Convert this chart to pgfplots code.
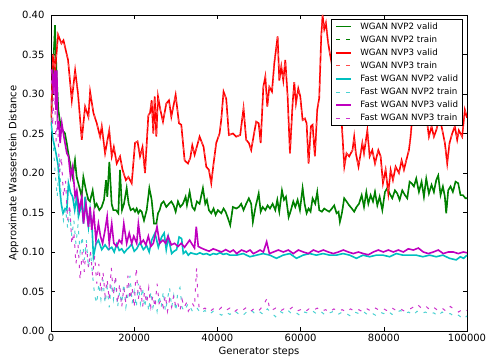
\documentclass[border=0pt]{standalone}
\usepackage{fontspec}
\setmainfont{DejaVu Sans}
\usepackage{pgfplots}
\usepackage{pgfplotstable}
\pgfplotsset{compat=1.18}
\definecolor{mgreen}{RGB}{0,128,0}
\definecolor{mred}{RGB}{255,0,0}
\definecolor{mcyan}{RGB}{0,191,191}
\definecolor{mmag}{RGB}{191,0,191}

\pgfplotstableread{
x y
0 0.27
500 0.33
961 0.387
1362 0.322
1763 0.280
2324 0.259
2805 0.254
3366 0.250
3766 0.238
4167 0.225
4728 0.208
5209 0.195
5770 0.216
6170 0.195
6812 0.182
7372 0.170
7773 0.195
8414 0.178
8975 0.166
9375 0.164
10017 0.178
10578 0.157
10978 0.161
11619 0.153
12180 0.157
12741 0.166
13222 0.191
13542 0.170
14023 0.214
14584 0.161
14985 0.153
15626 0.153
16187 0.149
16587 0.204
17068 0.153
17549 0.161
18190 0.181
18671 0.161
19152 0.153
19793 0.155
20193 0.151
20594 0.155
20995 0.149
21395 0.153
21796 0.151
22357 0.140
22998 0.153
23639 0.181
24200 0.166
24761 0.136
25320 0.136
25720 0.149
26120 0.153
26520 0.161
27080 0.164
27720 0.157
28360 0.161
28920 0.164
29480 0.159
29960 0.151
30520 0.164
31080 0.157
31720 0.161
32360 0.170
32680 0.159
33320 0.176
33960 0.157
34520 0.153
35080 0.164
35720 0.161
36520 0.181
37080 0.161
37480 0.166
37960 0.153
38520 0.149
39080 0.155
39560 0.147
40120 0.153
40920 0.149
41480 0.155
41960 0.151
42520 0.143
43080 0.134
43720 0.157
44520 0.155
45160 0.157
45720 0.161
46280 0.153
46920 0.161
47560 0.168
48120 0.161
48520 0.138
49160 0.157
49920 0.174
50400 0.151
50880 0.157
51520 0.153
52080 0.159
52640 0.155
53280 0.161
53920 0.153
54400 0.166
54880 0.151
55520 0.178
56000 0.166
56480 0.170
57120 0.144
57680 0.153
58240 0.164
58720 0.157
59280 0.166
59840 0.153
60480 0.181
60960 0.161
61440 0.149
61920 0.155
62400 0.151
62880 0.168
63520 0.161
64000 0.176
64480 0.153
65120 0.151
65680 0.155
66240 0.153
66880 0.151
67520 0.155
68080 0.159
68640 0.149
69120 0.151
69440 0.138
69920 0.149
70480 0.168
71040 0.164
71680 0.159
72320 0.155
72880 0.151
73440 0.157
74040 0.161
74680 0.172
75240 0.157
75800 0.176
76280 0.161
76840 0.172
77400 0.164
77880 0.176
78440 0.159
79000 0.170
79640 0.153
80280 0.176
80840 0.181
81400 0.174
82040 0.168
82680 0.178
83240 0.174
83800 0.166
84440 0.178
85080 0.172
85640 0.168
86200 0.189
86680 0.187
87240 0.183
87800 0.193
88440 0.176
89080 0.189
89640 0.170
90200 0.193
90840 0.174
91480 0.185
92040 0.176
92600 0.191
93080 0.197
93640 0.172
94200 0.183
94680 0.170
95000 0.149
95480 0.178
96040 0.183
96600 0.176
97240 0.189
97880 0.187
98440 0.172
99000 0.172
99640 0.168
100000 0.168
}\greenvalid

\pgfplotstableread{
x y
0 0.26
500 0.35
1000 0.33
1700 0.375
2500 0.364
3000 0.368
4100 0.343
5000 0.292
5800 0.330
6500 0.300
7400 0.242
8200 0.284
9000 0.271
9400 0.303
10200 0.276
11000 0.263
11800 0.246
12200 0.259
13000 0.225
14000 0.254
14600 0.221
15100 0.233
15800 0.212
16600 0.221
17200 0.204
18000 0.191
18600 0.195
19400 0.187
20200 0.238
20800 0.240
21400 0.221
22000 0.233
22600 0.200
23400 0.273
23800 0.276
24200 0.292
24600 0.250
24920 0.297
25320 0.246
25720 0.297
26280 0.280
26920 0.265
27720 0.288
28360 0.292
28920 0.271
29960 0.299
30760 0.263
31320 0.261
32120 0.216
32920 0.212
33480 0.219
33960 0.235
34520 0.223
35720 0.246
36680 0.233
37320 0.208
37960 0.204
38520 0.187
39080 0.212
39720 0.238
40520 0.250
40920 0.267
41480 0.303
42120 0.294
42760 0.248
43720 0.250
44520 0.246
45480 0.248
46280 0.282
46920 0.242
47560 0.238
48120 0.229
48680 0.246
49320 0.265
49920 0.263
50400 0.238
51040 0.309
51520 0.322
52000 0.284
52480 0.309
53120 0.303
53680 0.339
54480 0.373
54880 0.317
55360 0.335
55840 0.317
56320 0.343
56880 0.297
57440 0.225
58080 0.288
58480 0.315
58880 0.288
59440 0.307
59920 0.297
60480 0.267
61040 0.269
61440 0.263
61920 0.212
62480 0.259
62880 0.261
63440 0.221
64000 0.280
64480 0.295
64960 0.373
65280 0.400
65680 0.382
66080 0.390
66560 0.367
67040 0.351
67800 0.330
68500 0.300
69200 0.280
69900 0.262
70500 0.208
71040 0.225
71680 0.221
72480 0.229
72880 0.246
73280 0.225
73920 0.208
74840 0.238
75240 0.225
76040 0.254
76600 0.221
77240 0.229
77880 0.212
78680 0.229
79240 0.221
79800 0.187
80440 0.204
81080 0.174
81640 0.204
82200 0.191
82840 0.208
83640 0.200
84280 0.216
84840 0.204
85400 0.216
86040 0.229
86440 0.246
86840 0.271
87500 0.310
88300 0.330
89000 0.310
89800 0.290
90440 0.263
90840 0.246
91480 0.259
92040 0.246
92600 0.254
93240 0.267
93880 0.259
94680 0.238
95240 0.212
95800 0.238
96440 0.250
97080 0.259
97640 0.242
98040 0.254
98840 0.246
99480 0.280
100000 0.270
}\redvalid

\pgfplotstableread{
x y
0 0.265
400 0.245
800 0.235
1200 0.225
1700 0.210
2100 0.180
2500 0.160
2900 0.149
3400 0.155
3800 0.153
4200 0.187
4700 0.175
5200 0.170
5700 0.153
6200 0.170
6600 0.145
7000 0.153
7400 0.162
7800 0.136
8200 0.170
8700 0.145
9000 0.132
9400 0.153
9900 0.128
10200 0.094
10800 0.110
11400 0.115
12200 0.103
13000 0.109
13800 0.103
14600 0.106
15200 0.100
15800 0.110
16400 0.102
17000 0.104
17600 0.099
18200 0.103
18800 0.106
19400 0.110
20000 0.101
20600 0.104
21400 0.112
22200 0.103
23000 0.108
23600 0.100
24200 0.115
25000 0.124
25800 0.106
26600 0.119
27200 0.124
27700 0.103
28200 0.119
29000 0.098
29600 0.101
30200 0.103
30800 0.119
31400 0.117
31800 0.098
32400 0.101
33000 0.096
33600 0.099
34200 0.098
35000 0.097
35800 0.099
36600 0.097
37400 0.098
38200 0.096
39000 0.098
39800 0.097
40600 0.099
41400 0.097
42200 0.098
43000 0.096
44600 0.096
46200 0.098
47800 0.094
49400 0.096
51000 0.098
52600 0.096
54200 0.092
55800 0.096
57400 0.098
59000 0.092
60600 0.096
62200 0.098
63800 0.096
65400 0.098
67000 0.096
68600 0.096
70200 0.098
71800 0.096
73400 0.092
75000 0.096
76600 0.094
78200 0.096
79800 0.096
81400 0.094
83000 0.098
84600 0.096
86200 0.096
87800 0.096
89400 0.094
91000 0.096
92600 0.094
94200 0.096
95800 0.092
97400 0.090
98400 0.094
99200 0.092
100000 0.096
}\cyanvalid

\pgfplotstableread{
x y
0 0.270
500 0.240
1000 0.200
1500 0.170
2000 0.220
2500 0.160
3000 0.140
3500 0.155
4000 0.130
4500 0.150
5000 0.120
5500 0.140
6000 0.110
6500 0.135
7000 0.100
7500 0.120
8000 0.090
8500 0.115
9000 0.080
9500 0.100
10000 0.070
10500 0.045
11000 0.035
11500 0.060
12000 0.040
12500 0.065
13000 0.035
13500 0.055
14000 0.030
14500 0.060
15000 0.040
15500 0.065
16000 0.030
16500 0.050
17000 0.035
17500 0.060
18000 0.030
18500 0.045
19000 0.070
19500 0.035
20000 0.050
20500 0.030
21000 0.060
21500 0.035
22000 0.055
22500 0.030
23000 0.045
23500 0.025
24000 0.050
24500 0.030
25000 0.040
25500 0.025
26000 0.045
26500 0.030
27000 0.050
27500 0.025
28000 0.040
28500 0.055
29000 0.030
29500 0.045
30000 0.025
30500 0.050
31000 0.055
31500 0.030
32000 0.025
33000 0.035
34000 0.025
35000 0.030
36000 0.022
37000 0.026
38000 0.021
39000 0.025
40000 0.023
41000 0.020
42000 0.024
43000 0.021
44000 0.026
45000 0.022
46000 0.019
47000 0.024
48000 0.027
49000 0.022
50000 0.025
51000 0.021
52000 0.028
53000 0.023
54000 0.018
55000 0.025
56000 0.022
57000 0.026
58000 0.021
59000 0.023
60000 0.019
61000 0.024
62000 0.022
63000 0.025
64000 0.021
65000 0.024
66000 0.020
67000 0.023
68000 0.025
69000 0.021
70000 0.024
71000 0.022
72000 0.019
73000 0.024
74000 0.022
75000 0.025
76000 0.021
77000 0.023
78000 0.020
79000 0.024
80000 0.022
81000 0.025
82000 0.021
83000 0.023
84000 0.026
85000 0.022
86000 0.024
87000 0.020
88000 0.025
89000 0.022
90000 0.024
91000 0.021
92000 0.023
93000 0.019
94000 0.024
95000 0.021
96000 0.022
97000 0.018
98000 0.020
99000 0.015
100000 0.019
}\cyantrain

\pgfplotstableread{
x y
0 0.330
300 0.330
600 0.300
900 0.330
1200 0.280
1400 0.330
1600 0.255
1900 0.266
2200 0.238
2600 0.263
3100 0.246
3800 0.225
4200 0.221
4700 0.195
5200 0.208
5800 0.170
6200 0.178
6800 0.153
7400 0.170
7800 0.136
8400 0.161
9000 0.132
9400 0.157
9800 0.128
10300 0.149
10800 0.115
11400 0.136
11900 0.120
12400 0.111
13000 0.128
13500 0.145
14000 0.111
14600 0.136
15100 0.111
15800 0.107
16400 0.115
17000 0.111
17500 0.136
18200 0.111
18800 0.124
19400 0.111
19900 0.120
20600 0.111
21000 0.136
21600 0.111
22200 0.115
22800 0.109
23400 0.120
24000 0.107
24600 0.111
25480 0.132
26120 0.111
26920 0.115
27560 0.111
28120 0.120
28920 0.109
29700 0.111
30520 0.107
31300 0.111
32100 0.106
33320 0.115
33900 0.110
34500 0.105
34920 0.132
35400 0.107
36120 0.105
37000 0.103
38000 0.101
39000 0.104
40000 0.102
41000 0.100
42000 0.103
43030 0.100
43830 0.1025
44630 0.098
45800 0.1025
47000 0.100
47840 0.1025
48640 0.098
49440 0.100
50250 0.1025
51050 0.100
51840 0.113
52500 0.098
53450 0.100
54650 0.1025
55850 0.100
57050 0.1025
58250 0.098
59460 0.1025
60660 0.100
61860 0.098
63060 0.1025
64260 0.100
65460 0.1025
66670 0.100
67870 0.098
69070 0.100
70270 0.1025
71470 0.100
72670 0.098
73880 0.100
75080 0.098
76280 0.0965
77480 0.100
78680 0.1025
79880 0.100
81090 0.1025
82290 0.100
83490 0.1025
84690 0.100
85890 0.104
87100 0.1025
88300 0.105
89500 0.100
90700 0.098
91900 0.100
93100 0.1025
94300 0.098
95500 0.100
96710 0.100
97910 0.098
99110 0.100
100000 0.099
}\magvalid

\pgfplotstableread{
x y
0 0.330
400 0.260
800 0.310
1200 0.240
1600 0.270
2000 0.200
2500 0.220
3000 0.170
3500 0.190
4000 0.140
4500 0.160
5000 0.110
5500 0.125
6000 0.085
6500 0.110
7000 0.065
7500 0.100
8000 0.075
8500 0.110
9000 0.080
9500 0.100
10000 0.070
10500 0.095
11000 0.060
11500 0.085
12000 0.050
12500 0.075
13000 0.045
13500 0.065
14000 0.040
14500 0.080
15000 0.045
15500 0.070
16000 0.035
16500 0.060
17000 0.030
17500 0.055
18000 0.035
18500 0.070
19000 0.040
19500 0.055
20000 0.030
20500 0.080
21000 0.040
21500 0.060
22000 0.030
22500 0.050
23000 0.035
23500 0.055
24000 0.030
24500 0.045
25000 0.030
25500 0.060
26000 0.035
26500 0.040
27000 0.030
27500 0.045
28000 0.025
28500 0.040
29000 0.030
29500 0.045
30000 0.030
30500 0.035
31000 0.025
31500 0.040
32000 0.030
32500 0.035
33000 0.025
33500 0.030
34000 0.035
34500 0.030
35000 0.080
35300 0.045
35600 0.030
36000 0.026
37000 0.029
38000 0.024
39000 0.028
40000 0.025
41000 0.030
42000 0.026
43000 0.029
44000 0.024
45000 0.028
46000 0.026
47000 0.030
48000 0.025
49000 0.029
50000 0.026
51000 0.032
52000 0.042
52500 0.030
53000 0.026
54000 0.029
55000 0.025
56000 0.028
57000 0.026
58000 0.030
59000 0.025
60000 0.027
61000 0.024
62000 0.028
63000 0.026
64000 0.029
65000 0.025
66000 0.027
67000 0.024
68000 0.028
69000 0.025
70000 0.027
71000 0.024
72000 0.028
73000 0.025
74000 0.027
75000 0.024
76000 0.028
77000 0.025
78000 0.029
79000 0.026
80000 0.028
81000 0.025
82000 0.029
83000 0.026
84000 0.028
85000 0.025
86000 0.027
87000 0.030
88000 0.034
89000 0.029
90000 0.032
91000 0.027
92000 0.030
93000 0.026
94000 0.029
95000 0.025
96000 0.031
97000 0.027
98000 0.024
99000 0.028
100000 0.026
}\magtrain

\begin{document}
\begin{tikzpicture}
\begin{axis}[
  at={(0pt,0pt)}, anchor=south west,
  width=416pt, height=316pt, scale only axis,
  xmin=0, xmax=100000, ymin=0, ymax=0.4,
  xtick={0,20000,40000,60000,80000,100000},
  xticklabels={0,20000,40000,60000,80000,100000},
  ytick={0,0.05,0.1,0.15,0.2,0.25,0.3,0.35,0.4},
  yticklabels={0.00,0.05,0.10,0.15,0.20,0.25,0.30,0.35,0.40},
  scaled x ticks=false, scaled y ticks=false,
  tick align=inside, major tick length=4pt,
  tick style={black, line width=0.6pt},
  axis line style={line width=0.8pt},
  ticklabel style={font=\fontsize{10}{12}\selectfont},
  yticklabel style={xshift=-3pt},
  xlabel={Generator steps},
  ylabel={Approximate Wasserstein Distance},
  label style={font=\fontsize{10}{12}\selectfont},
  xlabel style={at={(axis description cs:0.5,-0.067)}, anchor=center},
  ylabel style={at={(axis description cs:-0.090,0.5)}, anchor=center},
  legend image code/.code={\draw[#1] (0pt,0pt) -- (15pt,0pt);},
  legend cell align=left,
  legend style={at={(0.99,0.987)}, anchor=north east, draw=black, line width=0.6pt, fill=white,
    font=\fontsize{8.7}{10}\selectfont, inner xsep=4.5pt, inner ysep=3pt, row sep=4.6pt,
    nodes={inner sep=0pt, text height=6.6pt, text depth=1.9pt},
    /tikz/every odd column/.append style={column sep=8.3pt}},
  valid/.style={line width=1.6pt},
  train/.style={line width=1pt, dash pattern=on 3.4pt off 6.6pt},
]
\addplot[mgreen, valid] table {\greenvalid};
\addlegendentry{WGAN NVP2 valid}
\addplot[mgreen, train] table {\greenvalid};
\addlegendentry{WGAN NVP2 train}
\addplot[mred, valid] table {\redvalid};
\addlegendentry{WGAN NVP3 valid}
\addplot[mred!70, train] table {\redvalid};
\addlegendentry{WGAN NVP3 train}
\addplot[mcyan, valid] table {\cyanvalid};
\addlegendentry{Fast WGAN NVP2 valid}
\addplot[mcyan!70, train] table {\cyantrain};
\addlegendentry{Fast WGAN NVP2 train}
\addplot[mmag, valid] table {\magvalid};
\addlegendentry{Fast WGAN NVP3 valid}
\addplot[mmag!80!white, train] table {\magtrain};
\addlegendentry{Fast WGAN NVP3 train}
\end{axis}
\pgfresetboundingbox
\path (-51pt,-27pt) rectangle (435pt,331pt);
\end{tikzpicture}
\end{document}
